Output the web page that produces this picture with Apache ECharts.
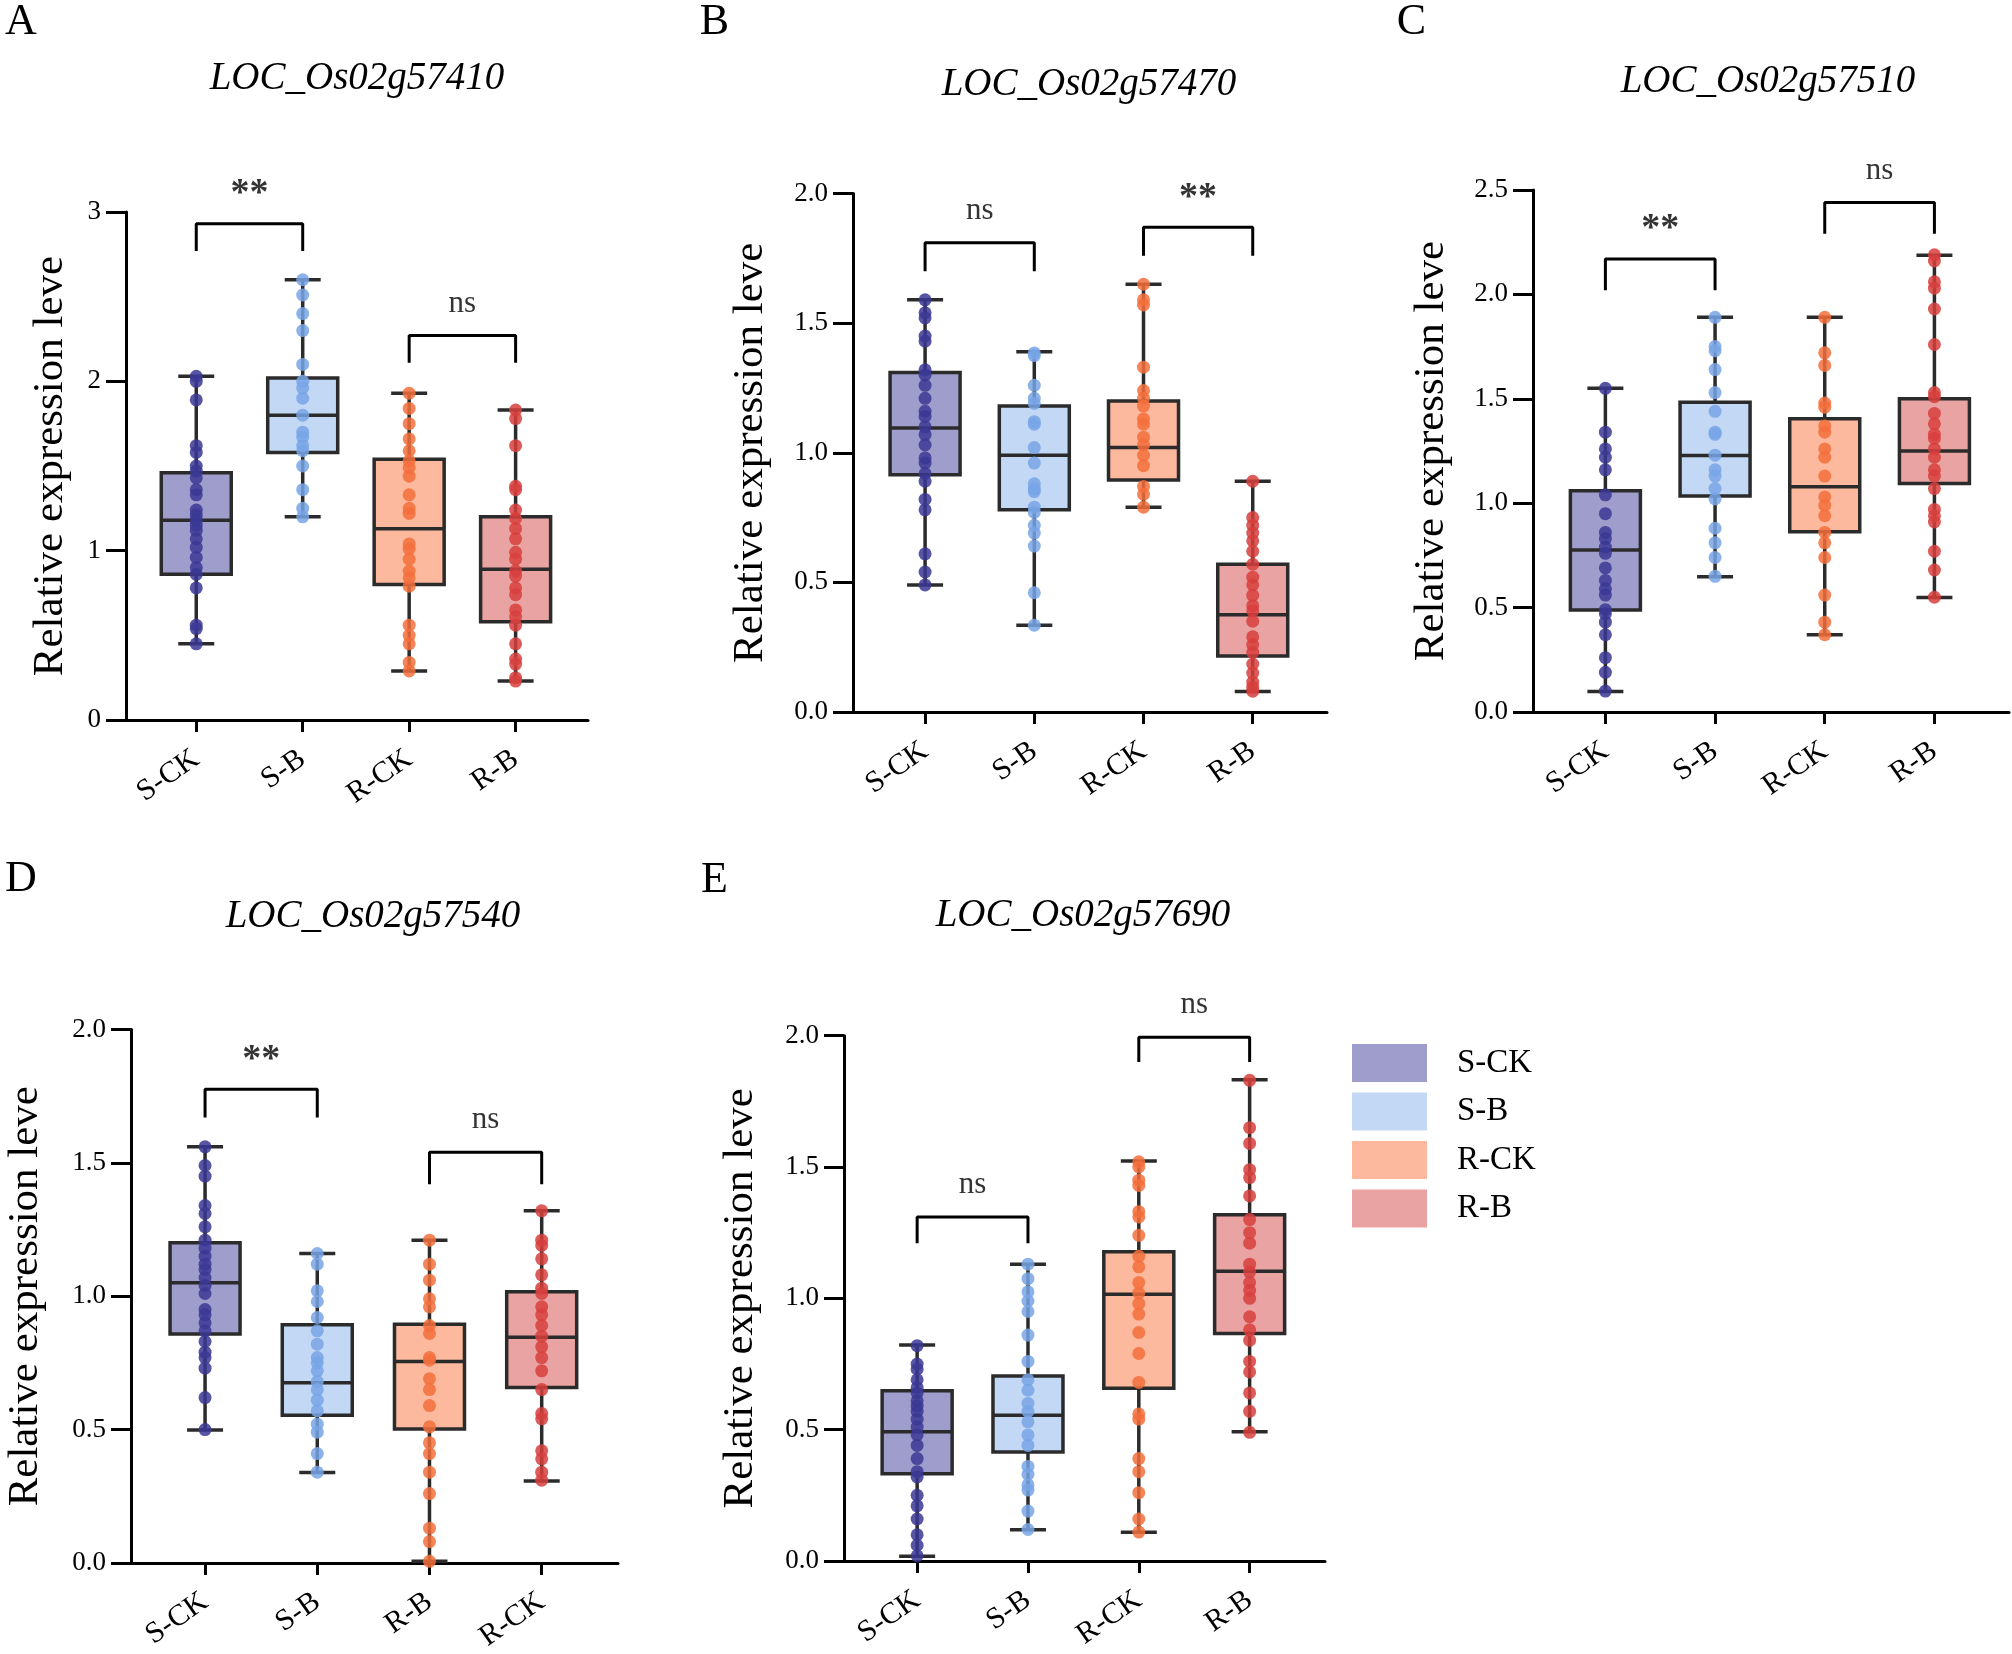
<!DOCTYPE html>
<html lang="en">
<head>
    <meta charset="UTF-8">
    <title>Relative expression boxplots</title>
    <script src="https://cdn.jsdelivr.net/npm/echarts@6/dist/echarts.min.js"></script>
    <style>
        body { margin: 0; background: #fff; }
        #main { width: 2012px; height: 1654px; }
    </style>
</head>
<body>
    <div id="main"></div>
    <script>
        // group labels per panel
        var catsMain = ['S-CK', 'S-B', 'R-CK', 'R-B'];
        var catsD = ['S-CK', 'S-B', 'R-B', 'R-CK'];

        // box stats: [min, Q1, median, Q3, max]
        var aStats = [[0.45, 0.86, 1.18, 1.46, 2.03], [1.20, 1.58, 1.80, 2.02, 2.60], [0.29, 0.80, 1.13, 1.54, 1.93], [0.23, 0.58, 0.89, 1.20, 1.83]];
        var bStats = [[0.49, 0.915, 1.095, 1.31, 1.59], [0.335, 0.78, 0.99, 1.18, 1.39], [0.79, 0.895, 1.02, 1.20, 1.65], [0.079, 0.216, 0.375, 0.57, 0.89]];
        var cStats = [[0.098, 0.488, 0.776, 1.06, 1.55], [0.648, 1.034, 1.229, 1.484, 1.89], [0.37, 0.863, 1.079, 1.404, 1.89], [0.548, 1.094, 1.25, 1.50, 2.187]];
        var dStats = [[0.498, 0.858, 1.05, 1.20, 1.56], [0.339, 0.554, 0.675, 0.893, 1.16], [0.006, 0.502, 0.755, 0.895, 1.21], [0.307, 0.658, 0.846, 1.017, 1.32]];
        var eStats = [[0.018, 0.332, 0.492, 0.648, 0.822], [0.119, 0.415, 0.555, 0.704, 1.13], [0.109, 0.658, 1.016, 1.177, 1.523], [0.492, 0.866, 1.103, 1.318, 1.832]];

        // individual samples
        var aSCK = [2.03, 2.00, 1.89, 1.62, 1.58, 1.50, 1.47, 1.43, 1.36, 1.33, 1.24, 1.21, 1.18, 1.15, 1.12, 1.07, 1.02, 0.96, 0.90, 0.86, 0.78, 0.56, 0.54, 0.45];
        var aSB = [2.60, 2.51, 2.40, 2.30, 2.10, 2.00, 1.96, 1.90, 1.80, 1.70, 1.67, 1.62, 1.59, 1.50, 1.36, 1.25, 1.20];
        var aRCK = [1.93, 1.84, 1.75, 1.66, 1.59, 1.53, 1.49, 1.44, 1.33, 1.25, 1.22, 1.04, 1.01, 0.95, 0.88, 0.84, 0.79, 0.56, 0.50, 0.45, 0.34, 0.29];
        var aRB = [1.83, 1.78, 1.62, 1.38, 1.36, 1.24, 1.19, 1.13, 1.07, 0.99, 0.95, 0.88, 0.85, 0.78, 0.74, 0.65, 0.61, 0.56, 0.45, 0.36, 0.33, 0.25, 0.23];

        var bSCK = [1.59, 1.54, 1.52, 1.45, 1.43, 1.32, 1.30, 1.26, 1.21, 1.16, 1.14, 1.10, 1.07, 1.03, 0.98, 0.96, 0.92, 0.89, 0.82, 0.78, 0.61, 0.54, 0.49];
        var bSB = [1.385, 1.375, 1.26, 1.21, 1.19, 1.12, 1.11, 1.02, 0.96, 0.88, 0.86, 0.85, 0.79, 0.77, 0.72, 0.69, 0.64, 0.46, 0.335];
        var bRCK = [1.65, 1.59, 1.57, 1.33, 1.24, 1.21, 1.18, 1.13, 1.11, 1.06, 1.03, 0.99, 0.95, 0.87, 0.84, 0.79];
        var bRB = [0.89, 0.75, 0.72, 0.69, 0.66, 0.62, 0.57, 0.52, 0.49, 0.45, 0.41, 0.39, 0.35, 0.29, 0.26, 0.23, 0.185, 0.15, 0.115, 0.095, 0.08];

        var cSCK = [1.55, 1.34, 1.26, 1.22, 1.16, 1.04, 0.95, 0.86, 0.83, 0.79, 0.76, 0.69, 0.63, 0.59, 0.56, 0.49, 0.47, 0.43, 0.37, 0.26, 0.19, 0.10];
        var cSB = [1.89, 1.75, 1.73, 1.64, 1.53, 1.44, 1.34, 1.33, 1.23, 1.16, 1.13, 1.07, 1.02, 0.88, 0.81, 0.74, 0.65];
        var cRCK = [1.89, 1.72, 1.66, 1.48, 1.46, 1.37, 1.34, 1.26, 1.22, 1.13, 1.03, 0.99, 0.94, 0.86, 0.81, 0.74, 0.56, 0.43, 0.37];
        var cRB = [2.19, 2.16, 2.06, 2.03, 1.93, 1.76, 1.53, 1.51, 1.43, 1.38, 1.33, 1.31, 1.26, 1.22, 1.16, 1.13, 1.07, 0.97, 0.94, 0.91, 0.77, 0.68, 0.55];

        var dSCK = [1.56, 1.49, 1.45, 1.34, 1.31, 1.26, 1.21, 1.18, 1.15, 1.12, 1.10, 1.07, 1.04, 1.01, 0.95, 0.93, 0.90, 0.87, 0.83, 0.79, 0.77, 0.73, 0.62, 0.50];
        var dSB = [1.16, 1.12, 1.02, 0.98, 0.92, 0.87, 0.82, 0.77, 0.75, 0.72, 0.68, 0.65, 0.61, 0.57, 0.52, 0.49, 0.41, 0.34];
        var dRB = [1.21, 1.12, 1.06, 0.99, 0.96, 0.89, 0.86, 0.77, 0.76, 0.69, 0.65, 0.59, 0.51, 0.45, 0.41, 0.34, 0.26, 0.13, 0.08, 0.006];
        var dRCK = [1.32, 1.21, 1.19, 1.14, 1.08, 1.03, 1.01, 0.96, 0.93, 0.89, 0.85, 0.81, 0.77, 0.72, 0.65, 0.56, 0.54, 0.42, 0.39, 0.34, 0.31];

        var eSCK = [0.82, 0.75, 0.73, 0.69, 0.66, 0.64, 0.61, 0.59, 0.57, 0.54, 0.51, 0.48, 0.44, 0.39, 0.34, 0.32, 0.25, 0.21, 0.16, 0.10, 0.06, 0.02];
        var eSB = [1.13, 1.075, 1.025, 0.99, 0.95, 0.86, 0.76, 0.69, 0.65, 0.60, 0.57, 0.53, 0.48, 0.44, 0.36, 0.33, 0.29, 0.27, 0.19, 0.12];
        var eRCK = [1.52, 1.50, 1.45, 1.43, 1.33, 1.31, 1.24, 1.16, 1.12, 1.06, 1.02, 0.98, 0.94, 0.87, 0.79, 0.68, 0.56, 0.54, 0.39, 0.34, 0.26, 0.16, 0.11];
        var eRB = [1.83, 1.65, 1.59, 1.49, 1.46, 1.39, 1.30, 1.25, 1.21, 1.13, 1.10, 1.06, 1.03, 1.00, 0.93, 0.88, 0.84, 0.76, 0.72, 0.64, 0.57, 0.49];

        // significance brackets: [from, to, leg bottom, top, text]
        var aSig = [[0, 1, 2.77, 2.93, '**'], [2, 3, 2.11, 2.27, 'ns']];
        var bSig = [[0, 1, 1.70, 1.81, 'ns'], [2, 3, 1.76, 1.87, '**']];
        var cSig = [[0, 1, 2.02, 2.17, '**'], [2, 3, 2.29, 2.44, 'ns']];
        var dSig = [[0, 1, 1.67, 1.776, '**'], [2, 3, 1.42, 1.54, 'ns']];
        var eSig = [[0, 1, 1.21, 1.31, 'ns'], [2, 3, 1.90, 1.994, 'ns']];

        var boxFill = ['#9f9dcc', '#c3d8f5', '#fdb99d', '#e9a3a2'];
        var dotColor = ['#3b3894', '#78a5e6', '#f36e3c', '#d7403d'];
        var font = "'Liberation Serif', 'Times New Roman', serif";
        var ink = '#2b2b2b';

        var panels = [
            { grid: { left: 126, top: 212, width: 462, height: 508 }, yMax: 3, yStep: 1, dec: 0, nameGap: 54,
              cats: catsMain, stats: aStats, points: [aSCK, aSB, aRCK, aRB], sig: aSig },
            { grid: { left: 853, top: 193.5, width: 474, height: 518.5 }, yMax: 2, yStep: 0.5, dec: 1, nameGap: 81,
              cats: catsMain, stats: bStats, points: [bSCK, bSB, bRCK, bRB], sig: bSig },
            { grid: { left: 1533, top: 190, width: 476, height: 522 }, yMax: 2.5, yStep: 0.5, dec: 1, nameGap: 80,
              cats: catsMain, stats: cStats, points: [cSCK, cSB, cRCK, cRB], sig: cSig },
            { grid: { left: 131, top: 1029.5, width: 487, height: 533.5 }, yMax: 2, yStep: 0.5, dec: 1, nameGap: 84,
              cats: catsD, stats: dStats, points: [dSCK, dSB, dRB, dRCK], sig: dSig },
            { grid: { left: 844, top: 1035.7, width: 481, height: 525.3 }, yMax: 2, yStep: 0.5, dec: 1, nameGap: 82,
              cats: catsMain, stats: eStats, points: [eSCK, eSB, eRCK, eRB], sig: eSig }
        ];

        var letters = [['A', 21, 22.5], ['B', 714.5, 22.5], ['C', 1411.5, 22.5], ['D', 21, 879], ['E', 714.5, 880.5]];
        var titles = [['LOC_Os02g57410', 357, 79], ['LOC_Os02g57470', 1089, 84.5], ['LOC_Os02g57510', 1768, 82],
                      ['LOC_Os02g57540', 373, 916.5], ['LOC_Os02g57690', 1083, 915.5]];

        function renderBox(params, api) {
            var x = api.value(0);
            var pMin = api.coord([x, api.value(1)]);
            var pQ1 = api.coord([x, api.value(2)]);
            var pMed = api.coord([x, api.value(3)]);
            var pQ3 = api.coord([x, api.value(4)]);
            var pMax = api.coord([x, api.value(5)]);
            var cx = pMin[0];
            var half = 35, cap = 18;
            function seg(x1, y1, x2, y2) {
                return { type: 'line', shape: { x1: x1, y1: y1, x2: x2, y2: y2 }, style: { stroke: ink, lineWidth: 3.5 } };
            }
            return {
                type: 'group',
                children: [
                    seg(cx, pMin[1], cx, pMax[1]),
                    { type: 'rect', shape: { x: cx - half, y: pQ3[1], width: half * 2, height: pQ1[1] - pQ3[1] },
                      style: { fill: api.visual('color'), stroke: ink, lineWidth: 3.5 } },
                    seg(cx - half, pMed[1], cx + half, pMed[1]),
                    seg(cx - cap, pMin[1], cx + cap, pMin[1]),
                    seg(cx - cap, pMax[1], cx + cap, pMax[1])
                ]
            };
        }

        var grids = [], xAxes = [], yAxes = [], series = [];
        panels.forEach(function (p, k) {
            grids.push(p.grid);
            xAxes.push({
                type: 'value', gridIndex: k, min: -0.66, max: 3.68,
                splitLine: { show: false },
                axisLine: { onZero: false, lineStyle: { color: '#000', width: 3 } },
                axisTick: { customValues: [0, 1, 2, 3], length: 12, lineStyle: { color: '#000', width: 3 } },
                axisLabel: {
                    customValues: [0, 1, 2, 3], rotate: 35, margin: 36,
                    fontFamily: font, fontSize: 30, color: '#000',
                    formatter: function (v) { return p.cats[Math.round(v)]; }
                }
            });
            yAxes.push({
                type: 'value', gridIndex: k, min: 0, max: p.yMax, interval: p.yStep,
                name: 'Relative expression leve', nameLocation: 'middle', nameGap: p.nameGap,
                nameTextStyle: { fontFamily: font, fontSize: 43, color: '#000' },
                splitLine: { show: false },
                axisLine: { show: true, onZero: false, lineStyle: { color: '#000', width: 3 } },
                axisTick: { show: true, length: 20, lineStyle: { color: '#000', width: 3 } },
                axisLabel: {
                    margin: 25, fontFamily: font, fontSize: 27, color: '#000',
                    formatter: function (v) { return v.toFixed(p.dec); }
                }
            });
            p.stats.forEach(function (s, i) {
                series.push({
                    type: 'custom', name: p.cats[i], xAxisIndex: k, yAxisIndex: k,
                    renderItem: renderBox, itemStyle: { color: boxFill[i] },
                    encode: { x: 0, y: [1, 2, 3, 4, 5] },
                    data: [[i].concat(s)], z: 2, silent: true
                });
            });
            p.points.forEach(function (vals, i) {
                series.push({
                    type: 'scatter', xAxisIndex: k, yAxisIndex: k, symbolSize: 13,
                    itemStyle: { color: dotColor[i], opacity: 0.85 },
                    data: vals.map(function (v) { return [i, v]; }), z: 3, silent: true
                });
            });
            p.sig.forEach(function (b) {
                series.push({
                    type: 'line', xAxisIndex: k, yAxisIndex: k, symbol: 'none', clip: false,
                    lineStyle: { color: '#000', width: 3 }, z: 4, silent: true,
                    data: [[b[0], b[2]], [b[0], b[3]], [b[1], b[3]], [b[1], b[2]]]
                });
                var stars = b[4] === '**';
                series.push({
                    type: 'scatter', xAxisIndex: k, yAxisIndex: k, symbolSize: 1, clip: false,
                    itemStyle: { color: 'rgba(0,0,0,0)' }, z: 4, silent: true,
                    label: {
                        show: true, position: 'top', distance: stars ? 10 : 16,
                        formatter: function (d) { return d.value[2]; },
                        fontFamily: font, fontSize: stars ? 38 : 31,
                        fontWeight: stars ? 'bold' : 'normal', color: '#000'
                    },
                    data: [[(b[0] + b[1]) / 2, b[3], b[4]]]
                });
            });
        });

        var graphics = [];
        letters.forEach(function (t) {
            graphics.push({ type: 'text', x: t[1], y: t[2],
                style: { text: t[0], font: '44px ' + font, fill: '#000', textAlign: 'center', textVerticalAlign: 'middle' } });
        });
        titles.forEach(function (t) {
            graphics.push({ type: 'text', x: t[1], y: t[2],
                style: { text: t[0], font: 'italic 39px ' + font, fill: '#000', textAlign: 'center', textVerticalAlign: 'middle' } });
        });

        var chart = echarts.init(document.getElementById('main'));
        chart.setOption({
            animation: false,
            backgroundColor: '#fff',
            grid: grids,
            xAxis: xAxes,
            yAxis: yAxes,
            legend: {
                orient: 'vertical', left: 1352, top: 1044, padding: 0,
                itemWidth: 75, itemHeight: 38, itemGap: 10.5, icon: 'rect',
                selectedMode: false,
                textStyle: { fontFamily: font, fontSize: 33, color: '#000', padding: [0, 0, 0, 25] },
                data: catsMain.map(function (c, i) { return { name: c, itemStyle: { color: boxFill[i] } }; })
            },
            graphic: graphics,
            series: series
        });
    </script>
</body>
</html>
